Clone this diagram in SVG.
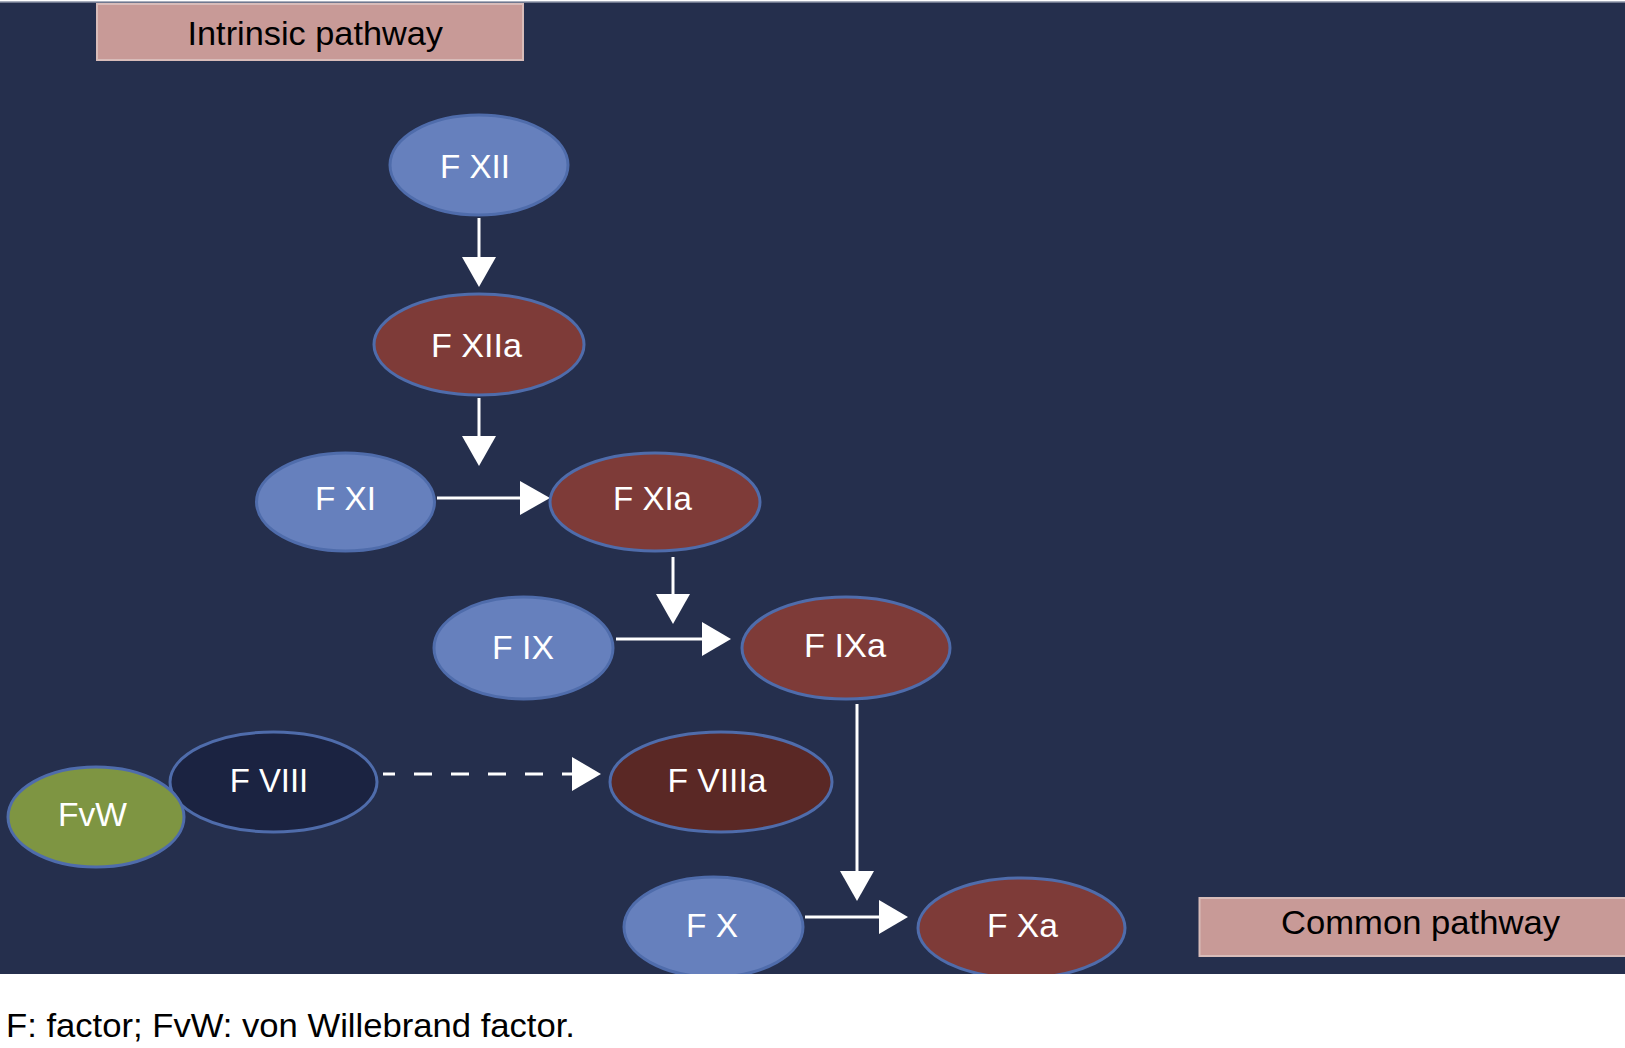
<svg xmlns="http://www.w3.org/2000/svg" width="1625" height="1048" viewBox="0 0 1625 1048">
<style>
.lbl{font-family:"Liberation Sans Narrow","Liberation Sans",Arial,sans-serif;font-size:33px;fill:#ffffff;text-anchor:middle}
.blk{font-family:"Liberation Sans Narrow","Liberation Sans",Arial,sans-serif;font-size:33px;fill:#000000}
.e{stroke:#4f6cab;stroke-width:3}
.blue{fill:#6680bd}
.red{fill:#7e3b38}
.box{fill:#c89a97;stroke:#d8bcb9;stroke-width:2}
.con{stroke:#ffffff;stroke-width:3;fill:none}
.head{fill:#ffffff}
</style>
<rect x="0" y="0" width="1625" height="1048" fill="#ffffff"/>
<rect id="background" x="0" y="2" width="1625" height="972" fill="#252f4d"/>
<line x1="0" y1="2" x2="1625" y2="2" stroke="#8a92a6" stroke-width="1.5"/>
<clipPath id="bgclip"><rect x="0" y="2" width="1625" height="972"/></clipPath>

<g id="intrinsic-label">
<rect class="box" x="97" y="4" width="426" height="56"/>
<text class="blk" x="187.5" y="45" textLength="255.5" lengthAdjust="spacingAndGlyphs">Intrinsic pathway</text>
</g>

<g id="connectors">
<line class="con" x1="479" y1="218" x2="479" y2="260"/>
<polygon class="head" points="462,257 496,257 479,287"/>
<line class="con" x1="479" y1="398" x2="479" y2="439"/>
<polygon class="head" points="462,436 496,436 479,466"/>
<line class="con" x1="437" y1="498" x2="523" y2="498"/>
<polygon class="head" points="520,481 520,515 550,498"/>
<line class="con" x1="673" y1="557" x2="673" y2="597"/>
<polygon class="head" points="656,594 690,594 673,624"/>
<line class="con" x1="616" y1="639" x2="705" y2="639"/>
<polygon class="head" points="702,622 702,656 731,639"/>
<line class="con" x1="383" y1="774" x2="574" y2="774" stroke-dasharray="12 19 18 19 18 19 18 19 18 19 18 19"/>
<polygon class="head" points="572,757 572,791 601,774"/>
<line class="con" x1="857" y1="704" x2="857" y2="874"/>
<polygon class="head" points="840,871 874,871 857,901"/>
<line class="con" x1="805" y1="917" x2="882" y2="917"/>
<polygon class="head" points="879,900 879,934 908,917"/>
</g>

<g id="fxii">
<ellipse class="e blue" cx="479" cy="165" rx="89" ry="50"/>
<text class="lbl" x="475" y="178" textLength="70" lengthAdjust="spacingAndGlyphs">F XII</text>
</g>
<g id="fxiia">
<ellipse class="e red" cx="479" cy="344.5" rx="105" ry="50.5"/>
<text class="lbl" x="476.5" y="357" textLength="91" lengthAdjust="spacingAndGlyphs">F XIIa</text>
</g>
<g id="fxi">
<ellipse class="e blue" cx="345.5" cy="502" rx="89" ry="49"/>
<text class="lbl" x="345.5" y="510" textLength="61" lengthAdjust="spacingAndGlyphs">F XI</text>
</g>
<g id="fxia">
<ellipse class="e red" cx="655" cy="502" rx="105" ry="49"/>
<text class="lbl" x="652.5" y="510" textLength="79" lengthAdjust="spacingAndGlyphs">F XIa</text>
</g>
<g id="fix">
<ellipse class="e blue" cx="523.5" cy="648" rx="89.5" ry="51"/>
<text class="lbl" x="523" y="659" textLength="62" lengthAdjust="spacingAndGlyphs">F IX</text>
</g>
<g id="fixa">
<ellipse class="e red" cx="846" cy="648" rx="104" ry="51"/>
<text class="lbl" x="845" y="657" textLength="82" lengthAdjust="spacingAndGlyphs">F IXa</text>
</g>
<g id="fviii">
<ellipse class="e" fill="#1b2341" cx="273.5" cy="782" rx="103.5" ry="50"/>
<text class="lbl" x="269" y="792" textLength="78.5" lengthAdjust="spacingAndGlyphs">F VIII</text>
</g>
<g id="fvw">
<ellipse class="e" fill="#7e9542" cx="96" cy="817" rx="88" ry="50"/>
<text class="lbl" x="92.5" y="826" textLength="69" lengthAdjust="spacingAndGlyphs">FvW</text>
</g>
<g id="fviiia">
<ellipse class="e" fill="#5a2825" cx="721" cy="782" rx="111" ry="50"/>
<text class="lbl" x="717" y="792" textLength="99" lengthAdjust="spacingAndGlyphs">F VIIIa</text>
</g>
<g id="fx" clip-path="url(#bgclip)">
<ellipse class="e blue" cx="713.5" cy="927" rx="89.5" ry="50"/>
<text class="lbl" x="712" y="937" textLength="52" lengthAdjust="spacingAndGlyphs">F X</text>
</g>
<g id="fxa" clip-path="url(#bgclip)">
<ellipse class="e red" cx="1021.5" cy="928" rx="103.5" ry="50"/>
<text class="lbl" x="1022.5" y="937" textLength="71" lengthAdjust="spacingAndGlyphs">F Xa</text>
</g>

<g id="common-label">
<rect class="box" x="1199.5" y="898" width="430" height="58"/>
<text class="blk" x="1281" y="934" textLength="279" lengthAdjust="spacingAndGlyphs">Common pathway</text>
</g>

<text id="caption" class="blk" x="6" y="1037" textLength="569" lengthAdjust="spacingAndGlyphs">F: factor; FvW: von Willebrand factor.</text>
</svg>
